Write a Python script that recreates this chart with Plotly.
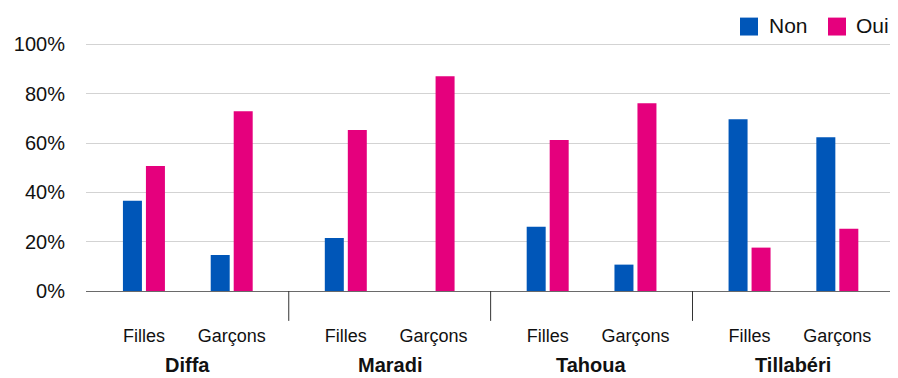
import plotly.graph_objects as go

# Survey results by region and sex (percent)
regions = ["Diffa", "Maradi", "Tahoua", "Tillabéri"]
sexes = ["Filles", "Garçons"]
non_values = [36.6, 14.6, 21.5, None, 26.1, 10.7, 69.7, 62.4]
oui_values = [50.7, 72.9, 65.3, 87.1, 61.2, 76.2, 17.6, 25.3]
y_ticks = [0, 20, 40, 60, 80, 100]
y_tick_text = ["%d%%" % v for v in y_ticks]

COLORS = {"Non": "#0056B8", "Oui": "#E5007D"}
FONT = "Liberation Sans, Arial, Helvetica, sans-serif"

# Bars sit in pairs per region, with a wider gap between regions
GROUP_PITCH = 2.3
x_pos = [g * GROUP_PITCH + s for g in range(len(regions)) for s in range(len(sexes))]
x_text = [s for _ in regions for s in sexes]

W, H = 898, 378
M_L, M_R, M_T, M_B = 86, 8, 41.5, 86.5
PLOT_W = W - M_L - M_R
PLOT_H = H - M_T - M_B


def px_to_paper_x(px):
    return (px - M_L) / PLOT_W


def px_to_paper_y(py):
    return (H - M_B - py) / PLOT_H


fig = go.Figure()
for name, vals in (("Non", non_values), ("Oui", oui_values)):
    fig.add_trace(go.Bar(
        x=x_pos, y=vals, name=name,
        marker=dict(color=COLORS[name], line=dict(width=0)),
        showlegend=False,
        hoverinfo="skip",
    ))

# Vertical separators between regions, below the axis
shapes = []
for g in range(len(regions) - 1):
    mid = (g * GROUP_PITCH + 1 + (g + 1) * GROUP_PITCH) / 2
    shapes.append(dict(
        type="line", xref="x", yref="paper",
        x0=mid, x1=mid, y0=0, y1=-30 / PLOT_H,
        line=dict(color="#333333", width=1),
    ))

annotations = []
# Region names under each pair
for g, reg in enumerate(regions):
    center = g * GROUP_PITCH + 0.5
    annotations.append(dict(
        x=center, xref="x", y=px_to_paper_y(366), yref="paper",
        text="<b>%s</b>" % reg, showarrow=False,
        xanchor="center", yanchor="middle",
        font=dict(family=FONT, size=20, color="#111111"),
    ))

# Legend: square swatches with labels, top right
legend_items = [("Non", 740, 769), ("Oui", 828, 856)]
for name, sx, tx in legend_items:
    shapes.append(dict(
        type="rect", xref="paper", yref="paper",
        x0=px_to_paper_x(sx), x1=px_to_paper_x(sx + 18),
        y0=px_to_paper_y(35), y1=px_to_paper_y(17),
        fillcolor=COLORS[name], line=dict(width=0),
    ))
    annotations.append(dict(
        x=px_to_paper_x(tx - 2), xref="paper", y=px_to_paper_y(25), yref="paper",
        text=name, showarrow=False, xanchor="left", yanchor="middle",
        font=dict(family=FONT, size=21, color="#111111"),
    ))

fig.update_layout(
    width=W, height=H,
    margin=dict(l=M_L, r=M_R, t=M_T, b=M_B, pad=0),
    paper_bgcolor="white", plot_bgcolor="white",
    barmode="group", bargap=0.476, bargroupgap=0.174,
    shapes=shapes, annotations=annotations,
    showlegend=False,
    font=dict(family=FONT, color="#111111"),
)
fig.update_xaxes(
    range=[-0.66, (len(regions) - 1) * GROUP_PITCH + 1 + 0.6],
    tickmode="array", tickvals=x_pos, ticktext=x_text,
    tickfont=dict(family=FONT, size=18, color="#111111"),
    showgrid=False, zeroline=False, showline=False,
    ticks="", ticklabelstandoff=32,
)
fig.update_yaxes(
    range=[0, 101],
    tickmode="array", tickvals=y_ticks, ticktext=y_tick_text,
    tickfont=dict(family=FONT, size=20, color="#111111"),
    showgrid=True, gridcolor="#D3D3D3", gridwidth=1,
    zeroline=True, zerolinecolor="#6A6A6A", zerolinewidth=1,
    showline=False, ticks="", ticklabelstandoff=20,
)

fig.write_html("out.html")
